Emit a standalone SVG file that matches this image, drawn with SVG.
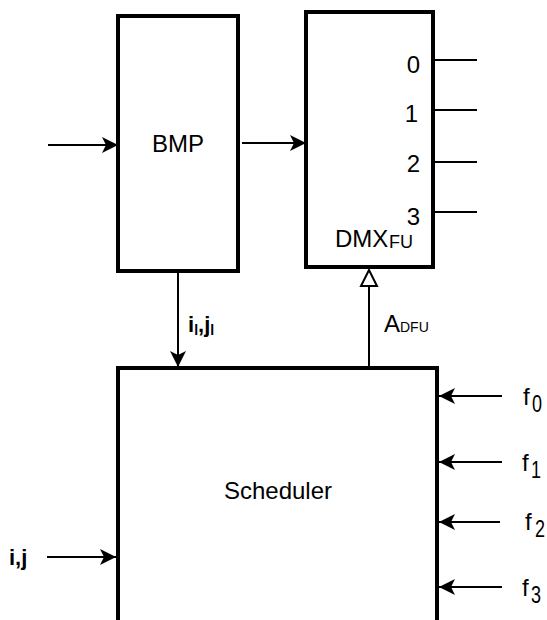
<svg xmlns="http://www.w3.org/2000/svg" width="547" height="620" viewBox="0 0 547 620">
<defs>
<style>
.box{fill:#fff;stroke:#000;stroke-width:4}
.ln{stroke:#000;stroke-width:2;fill:none}
text{font-family:"Liberation Sans",Arial,sans-serif;fill:#000}
.t{font-size:24px}
.b{font-size:22px;font-weight:bold}
.s{font-size:24px}
</style>
<marker id="ah" viewBox="0 0 16 16" refX="16" refY="8" markerWidth="16" markerHeight="16" markerUnits="userSpaceOnUse" orient="auto">
<path d="M0,0 L16,8 L0,16 L4,8 Z" fill="#000"/>
</marker>
<marker id="oh" viewBox="0 0 20 20" refX="18" refY="10" markerWidth="20" markerHeight="20" markerUnits="userSpaceOnUse" orient="auto">
<path d="M2,2 L18,10 L2,18 Z" fill="#fff" stroke="#000" stroke-width="2"/>
</marker>
</defs>
<rect width="547" height="620" fill="#fff"/>
<g id="BMP">
<rect class="box" x="118" y="16" width="120" height="255"/>
<text class="t" x="178" y="152" text-anchor="middle">BMP</text>
</g>
<g id="DMX">
<rect class="box" x="306" y="12" width="127" height="255"/>
<text class="t" x="420" y="73" text-anchor="end">0</text>
<text class="t" x="418" y="122" text-anchor="end">1</text>
<text class="t" x="420" y="172" text-anchor="end">2</text>
<text class="t" x="420" y="225" text-anchor="end">3</text>
<text class="t" x="335" y="247">DMX</text>
<text x="389" y="248" font-size="18">FU</text>
</g>
<g id="Scheduler">
<path class="box" d="M118,640 V368 H437 V640"/>
<text class="t" x="278" y="499" text-anchor="middle">Scheduler</text>
</g>
<g id="connectors">
<line class="ln" x1="48" y1="145" x2="118" y2="145" marker-end="url(#ah)"/>
<line class="ln" x1="242" y1="143" x2="306" y2="143" marker-end="url(#ah)"/>
<line class="ln" x1="433" y1="60" x2="477" y2="60"/>
<line class="ln" x1="433" y1="110" x2="477" y2="110"/>
<line class="ln" x1="433" y1="162" x2="477" y2="162"/>
<line class="ln" x1="433" y1="212" x2="477" y2="212"/>
<line class="ln" x1="178" y1="273" x2="178" y2="367" marker-end="url(#ah)"/>
<line class="ln" x1="369" y1="366" x2="369" y2="270" marker-end="url(#oh)"/>
<line class="ln" x1="502" y1="396" x2="439" y2="396" marker-end="url(#ah)"/>
<line class="ln" x1="502" y1="462" x2="439" y2="462" marker-end="url(#ah)"/>
<line class="ln" x1="500" y1="522" x2="439" y2="522" marker-end="url(#ah)"/>
<line class="ln" x1="502" y1="587" x2="439" y2="587" marker-end="url(#ah)"/>
<line class="ln" x1="47" y1="557" x2="116" y2="557" marker-end="url(#ah)"/>
</g>
<g id="labels">
<text class="b" x="188" y="332">i<tspan font-size="14" dy="3">l</tspan><tspan dy="-3">,j</tspan><tspan font-size="14" dy="3">l</tspan></text>
<text class="t" x="384" y="332">A</text>
<text x="400" y="332" font-size="14">DFU</text>
<text class="t" x="523" y="405">f</text>
<text class="s" transform="translate(532,412) scale(0.75,1)">0</text>
<text class="t" x="522" y="471">f</text>
<text class="s" transform="translate(531,478) scale(0.75,1)">1</text>
<text class="t" x="525" y="530">f</text>
<text class="s" transform="translate(535,537) scale(0.75,1)">2</text>
<text class="t" x="522" y="596">f</text>
<text class="s" transform="translate(531,603) scale(0.75,1)">3</text>
<text class="b" x="9" y="565">i,j</text>
</g>
</svg>
